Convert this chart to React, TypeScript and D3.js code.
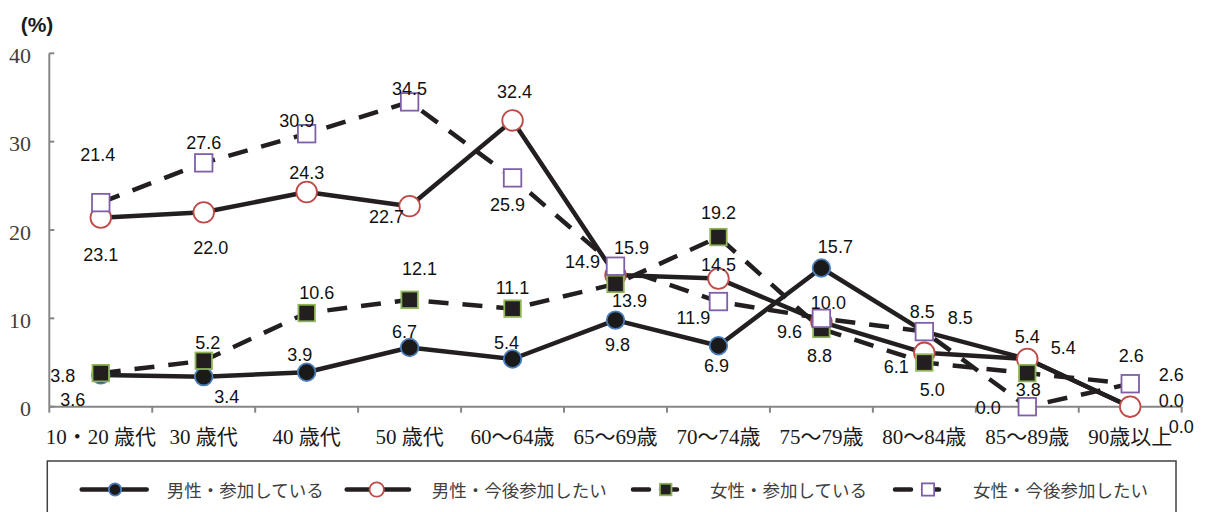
import React from "react";
import * as d3 from "d3";

// ---------- data ----------
const categories = [
  "10・20 歳代", "30 歳代", "40 歳代", "50 歳代", "60～64歳", "65～69歳",
  "70～74歳", "75～79歳", "80～84歳", "85～89歳", "90歳以上",
];
const yTicks = [0, 10, 20, 30, 40];
const seriesNames = ["男性・参加している", "男性・今後参加したい", "女性・参加している", "女性・今後参加したい"];
const maleParticipating = [3.6, 3.4, 3.9, 6.7, 5.4, 9.8, 6.9, 15.7, 8.5, 5.4, 0.0];
const maleWant = [21.4, 22.0, 24.3, 22.7, 32.4, 14.9, 14.5, 9.6, 6.1, 5.4, 0.0];
const femaleParticipating = [3.8, 5.2, 10.6, 12.1, 11.1, 13.9, 19.2, 8.8, 5.0, 3.8, 2.6];
const femaleWant = [23.1, 27.6, 30.9, 34.5, 25.9, 15.9, 11.9, 10.0, 8.5, 0.0, 2.6];

// ---------- layout (label offsets in px, relative to the point) ----------
const mpOffsets: [number, number][] = [[-28, 25], [23, 20], [-7, -17], [-5, -16], [-6, -16], [2, 25], [-2, 20], [14, -21], [36, -14], [36, -11], [51, 20]];
const mwOffsets: [number, number][] = [[-3, -63], [7, 36], [0, -19], [-23, 11], [2, -28], [-33, -13], [0, -14], [-32, 10], [-28, 14], [0, -22], [41, -6]];
const fpOffsets: [number, number][] = [[-38, 3], [4, -18], [10, -20], [10, -31], [0, -21], [14, 17], [0, -24], [-2, 27], [8, 27], [1, 17], [41, -9]];
const fwOffsets: [number, number][] = [[0, 52], [0, -20], [-10, -13], [0, -13], [-5, 27], [16, -18], [-25, 16], [7, -15], [-2, -20], [-39, 1], [1, -28]];

const W = 1205, H = 512;
const plotLeft = 49.3, plotRight = 1181.7, yBottom = 406.7, yTop = 53.3;
const LINE = "#231f20";
const AXIS = "#868686";
const DASH = "20,14";

type Marker = "circleFilled" | "circleOpen" | "squareFilled" | "squareOpen";
interface Series { name: string; values: number[]; offsets: [number, number][]; dashed: boolean; marker: Marker; fill: string; stroke: string; }

const series: Series[] = [
  { name: seriesNames[0], values: maleParticipating, offsets: mpOffsets, dashed: false, marker: "circleFilled", fill: "#1a1a1a", stroke: "#4a7ebb" },
  { name: seriesNames[1], values: maleWant, offsets: mwOffsets, dashed: false, marker: "circleOpen", fill: "#ffffff", stroke: "#be4b48" },
  { name: seriesNames[2], values: femaleParticipating, offsets: fpOffsets, dashed: true, marker: "squareFilled", fill: "#231f20", stroke: "#8fb556" },
  { name: seriesNames[3], values: femaleWant, offsets: fwOffsets, dashed: true, marker: "squareOpen", fill: "#ffffff", stroke: "#7f60a8" },
];

function MarkerShape({ m, x, y, fill, stroke, scale = 1 }: { m: Marker; x: number; y: number; fill: string; stroke: string; scale?: number }) {
  if (m === "circleFilled") return <circle cx={x} cy={y} r={8.8 * scale} fill={fill} stroke={stroke} strokeWidth={1.8} />;
  if (m === "circleOpen") return <circle cx={x} cy={y} r={10.3 * scale} fill={fill} stroke={stroke} strokeWidth={1.8} />;
  const s = (m === "squareFilled" ? 16.5 : 17.5) * scale;
  return <rect x={x - s / 2} y={y - s / 2} width={s} height={s} fill={fill} stroke={stroke} strokeWidth={1.8} />;
}

export default function App() {
  const x = d3.scaleBand<string>().domain(categories).range([plotLeft, plotRight]).padding(0);
  const y = d3.scaleLinear().domain([0, 40]).range([yBottom, yTop]);
  const cx = (i: number) => (x(categories[i]) as number) + x.bandwidth() / 2;
  const line = d3.line<number>().x((_, i) => cx(i)).y((v) => y(v));

  const boundaries = d3.range(categories.length + 1).map((i) => plotLeft + i * x.bandwidth());

  const legendItems = [
    { lx1: 81.7, lx2: 146.7, mx: 115, tx: 166.7 },
    { lx1: 346.7, lx2: 409, mx: 376.7, tx: 431.7 },
    { lx1: 633, lx2: 683, mx: 665.7, tx: 710 },
    { lx1: 895, lx2: 945, mx: 928, tx: 973 },
  ];
  const legendY = 489.5;

  return (
    <svg width={W} height={H} style={{ position: "absolute", left: 0, top: 0, background: "#fff" }}>
      <rect x={0} y={0} width={W} height={H} fill="#fff" />
      {/* y axis unit */}
      <text x={37} y={24} textAnchor="middle" dominantBaseline="central" fontFamily="'Liberation Sans', Arial, sans-serif" fontSize={21} fontWeight="bold" fill="#1a1a1a">(%)</text>

      {/* y axis */}
      <line x1={plotLeft} x2={plotLeft} y1={yTop} y2={yBottom} stroke={AXIS} strokeWidth={2} />
      {yTicks.map((t) => (
        <g key={t}>
          <line x1={plotLeft} x2={plotLeft + 5} y1={y(t)} y2={y(t)} stroke={AXIS} strokeWidth={2} />
          <text x={31} y={y(t) + 2} textAnchor="end" dominantBaseline="central" fontFamily="'Liberation Serif', 'DejaVu Serif', serif" fontSize={22} fill="#404040">{t}</text>
        </g>
      ))}

      {/* x axis */}
      <line x1={plotLeft} x2={plotRight} y1={yBottom} y2={yBottom} stroke={AXIS} strokeWidth={2} />
      {boundaries.map((bx, i) => (
        <line key={i} x1={bx} x2={bx} y1={yBottom} y2={yBottom + 6} stroke={AXIS} strokeWidth={2} />
      ))}
      {categories.map((c, i) => (
        <text key={c} x={cx(i)} y={437} textAnchor="middle" dominantBaseline="central" fontFamily="'Liberation Serif', 'Noto Sans CJK JP', serif" fontSize={21} fill="#1a1a1a">{c}</text>
      ))}

      {/* lines */}
      {series.map((s) => (
        <path key={s.name} d={line(s.values) || ""} fill="none" stroke={LINE} strokeWidth={4.5} strokeDasharray={s.dashed ? DASH : undefined} strokeLinejoin="round" />
      ))}
      {/* markers */}
      {series.map((s) => (
        <g key={s.name + "m"}>
          {s.values.map((v, i) => (
            <MarkerShape key={i} m={s.marker} x={cx(i)} y={y(v)} fill={s.fill} stroke={s.stroke} />
          ))}
        </g>
      ))}
      {/* data labels */}
      {series.map((s) => (
        <g key={s.name + "l"}>
          {s.values.map((v, i) => (
            <text key={i} x={cx(i) + s.offsets[i][0]} y={y(v) + s.offsets[i][1]} textAnchor="middle" dominantBaseline="central" fontFamily="'Liberation Sans', Arial, sans-serif" fontSize={18} fill="#111">{v.toFixed(1)}</text>
          ))}
        </g>
      ))}

      {/* legend */}
      <rect x={47.3} y={461} width={1176 - 47.3} height={80} fill="#fff" stroke="#404040" strokeWidth={1.5} />
      {series.map((s, i) => {
        const it = legendItems[i];
        return (
          <g key={s.name + "lg"}>
            <line x1={it.lx1} x2={it.lx2} y1={legendY} y2={legendY} stroke={LINE} strokeWidth={4.5} strokeLinecap="round" strokeDasharray={s.dashed ? "16,12" : undefined} />
            <MarkerShape m={s.marker} x={it.mx} y={legendY} fill={s.fill} stroke={s.stroke} scale={0.7} />
            <text x={it.tx} y={legendY} dominantBaseline="central" fontFamily="'Noto Sans CJK JP', sans-serif" fontSize={17.5} fill="#404040">{s.name}</text>
          </g>
        );
      })}
    </svg>
  );
}
